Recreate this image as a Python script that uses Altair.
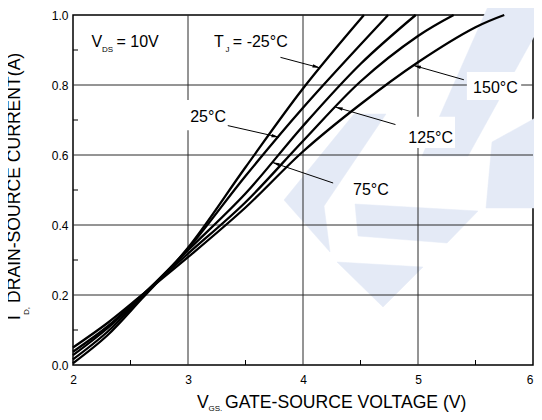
import math
import altair as alt
import pandas as pd

# ---------------- data ----------------
temps = ["-25°C", "25°C", "75°C", "125°C", "150°C"]

vgs_m25 = [2.0, 2.3, 2.6, 3.0, 3.5, 4.0, 4.53]
id_m25 = [0.005, 0.085, 0.19, 0.335, 0.565, 0.79, 1.0]

vgs_25 = [2.0, 2.3, 2.6, 3.0, 3.5, 4.0, 4.74]
id_25 = [0.016, 0.095, 0.195, 0.332, 0.54, 0.735, 1.0]

vgs_75 = [2.0, 2.3, 2.6, 3.0, 3.5, 4.0, 4.5, 4.98]
id_75 = [0.028, 0.105, 0.198, 0.328, 0.49, 0.683, 0.86, 1.0]

vgs_125 = [2.0, 2.3, 2.6, 3.0, 3.5, 4.0, 4.5, 5.0, 5.31]
id_125 = [0.038, 0.11, 0.20, 0.318, 0.465, 0.64, 0.81, 0.94, 1.0]

vgs_150 = [2.0, 2.3, 2.6, 3.0, 3.5, 4.0, 4.5, 5.0, 5.5, 5.75]
id_150 = [0.05, 0.12, 0.20, 0.308, 0.45, 0.61, 0.745, 0.865, 0.965, 1.0]

x_ticks = [2, 3, 4, 5, 6]
y_ticks = [0.0, 0.2, 0.4, 0.6, 0.8, 1.0]
x_minor = [2.5, 3.5, 4.5, 5.5]
y_minor = [0.1, 0.3, 0.5, 0.7, 0.9]

# annotation texts (data coords: left edge, baseline)
ann_text = ["V", "DS", "= 10V", "T", "J", "= -25°C", "25°C", "75°C", "125°C", "150°C"]
ann_x = [2.161, 2.253, 2.378, 3.227, 3.326, 3.39, 3.019, 4.435, 4.916, 5.479]
ann_y = [0.908, 0.893, 0.908, 0.908, 0.893, 0.908, 0.695, 0.486, 0.635, 0.778]
ann_fs = [16, 8, 16, 16, 8, 16, 16, 16, 16, 16]

# white label boxes
box_x1 = [2.970, 4.858, 5.425, 4.378]
box_x2 = [3.365, 5.322, 5.897, 4.790]
box_y1 = [0.671, 0.620, 0.757, 0.463]
box_y2 = [0.757, 0.709, 0.837, 0.537]

# arrows: tail -> tip
arr_tail_x = [3.804, 3.346, 4.262, 4.804, 5.399]
arr_tail_y = [0.879, 0.684, 0.520, 0.687, 0.815]
arr_tip_x = [4.147, 3.790, 3.732, 4.281, 4.961]
arr_tip_y = [0.849, 0.651, 0.579, 0.737, 0.856]

# faint background logo (watermark) outline, in page pixels
wm_shapes = {
    "band": [(490, 2), (542, 2), (542, 22), (468, 156), (422, 156)],
    "stroke": [(354, 114), (386, 114), (324, 206), (330, 252), (284, 200)],
    "bar": [(355, 204), (478, 211), (447, 243), (358, 236)],
    "tri": [(337, 262), (423, 267), (383, 307)],
    "right": [(492, 142), (539, 116), (539, 208), (486, 208)],
}

# ---------------- build ----------------
W, H = 460, 350
FONT = "Liberation Sans"
PX_X0, PX_Y0 = 73, 15  # page position of plot origin
WM_COLOR = "#e4eaf6"

rows = []
for t, xs_, ys_ in zip(temps, [vgs_m25, vgs_25, vgs_75, vgs_125, vgs_150],
                       [id_m25, id_25, id_75, id_125, id_150]):
    for a, b in zip(xs_, ys_):
        rows.append({"temp": t, "vgs": a, "id": b})
curves = pd.DataFrame(rows)

wm_rows = []
for name, pts in wm_shapes.items():
    for i, (px, py) in enumerate(list(pts) + [pts[0]]):
        wm_rows.append({"shape": name, "i": i,
                        "x": 2 + (px - PX_X0) * 4 / W,
                        "y": 1 - (py - PX_Y0) / H})
wm = pd.DataFrame(wm_rows)

xscale = alt.Scale(domain=[2, 6], nice=False, zero=False)
yscale = alt.Scale(domain=[0, 1], nice=False, zero=False)

x_axis = alt.Axis(values=x_ticks, title=None, grid=False, ticks=False, tickSize=0,
                  domain=False, labelFlush=False, labelPadding=9, labelFontSize=12,
                  format="d",
                  labelAlign={"condition": {"test": "datum.value == 6", "value": "right"},
                              "value": "center"})
y_axis = alt.Axis(values=y_ticks, title=None, grid=False, ticks=False, tickSize=0,
                  domain=False, labelFlush=False, labelPadding=5, labelFontSize=12,
                  format=".1f")


def X(f):
    return alt.X(f, scale=xscale, axis=x_axis)


def Y(f):
    return alt.Y(f, scale=yscale, axis=y_axis)


watermark = alt.Chart(wm).mark_line(fill=WM_COLOR, stroke=WM_COLOR, strokeWidth=0.5,
                                    interpolate="linear").encode(
    x=X("x:Q"), y=Y("y:Q"), detail="shape:N", order="i:Q")

xgrid = alt.Chart(pd.DataFrame({"v": x_ticks[1:-1]})).mark_rule(
    color="#2b2b2b", strokeWidth=1).encode(x=X("v:Q"), y=alt.value(0), y2=alt.value(H))
ygrid = alt.Chart(pd.DataFrame({"v": y_ticks[1:-1]})).mark_rule(
    color="#2b2b2b", strokeWidth=1).encode(y=Y("v:Q"), x=alt.value(0), x2=alt.value(W))

boxes = alt.Chart(pd.DataFrame({"x1": box_x1, "x2": box_x2, "y1": box_y1, "y2": box_y2})
                  ).mark_rect(color="white").encode(
    x=X("x1:Q"), x2="x2:Q", y=Y("y1:Q"), y2="y2:Q")

lines = alt.Chart(curves).mark_line(color="black", strokeWidth=2.3,
                                    interpolate="catmull-rom").encode(
    x=X("vgs:Q"), y=Y("id:Q"), detail="temp:N")

xmin = alt.Chart(pd.DataFrame({"v": x_minor})).mark_rule(color="black", strokeWidth=1).encode(
    x=X("v:Q"), y=alt.value(H), y2=alt.value(H - 5))
ymin = alt.Chart(pd.DataFrame({"v": y_minor})).mark_rule(color="black", strokeWidth=1).encode(
    y=Y("v:Q"), x=alt.value(0), x2=alt.value(5))

arr = pd.DataFrame({"tx": arr_tail_x, "ty": arr_tail_y, "hx": arr_tip_x, "hy": arr_tip_y})
arrow_lines = alt.Chart(arr).mark_rule(color="black", strokeWidth=1).encode(
    x=X("tx:Q"), y=Y("ty:Q"), x2="hx:Q", y2="hy:Q")

head_size = 55
r = math.sqrt(head_size) / 2
hrows = []
for tx, ty, hx, hy in zip(arr_tail_x, arr_tail_y, arr_tip_x, arr_tip_y):
    dxp = (hx - tx) * W / 4
    dyp = -(hy - ty) * H
    L = math.hypot(dxp, dyp)
    ux, uy = dxp / L, dyp / L
    ang = math.degrees(math.atan2(ux, -uy)) % 360
    hrows.append({"cx": hx - r * ux / (W / 4), "cy": hy + r * uy / H, "ang": ang})
heads = alt.Chart(pd.DataFrame(hrows)).mark_point(
    shape="M0,-1L0.45,1L-0.45,1Z", filled=True, color="black", opacity=1, size=head_size,
    strokeWidth=0).encode(
    x=X("cx:Q"), y=Y("cy:Q"), angle=alt.Angle("ang:Q", scale=None))

texts = alt.Chart(pd.DataFrame({"x": ann_x, "y": ann_y, "text": ann_text, "fs": ann_fs})
                  ).mark_text(align="left", baseline="alphabetic", font=FONT, color="black").encode(
    x=X("x:Q"), y=Y("y:Q"), text="text:N", size=alt.Size("fs:Q", scale=None, legend=None))


def ptext(txt, px, py, fs, angle=0):
    return alt.Chart(alt.Data(values=[{}])).mark_text(
        align="left", baseline="alphabetic", font=FONT, fontSize=fs, angle=angle,
        color="black").encode(x=alt.value(px), y=alt.value(py), text=alt.value(txt))


titles = [
    ptext("V", 124, 392.5, 17.6),
    ptext("GS.", 135.5, 396, 8),
    ptext("GATE-SOURCE VOLTAGE (V)", 152, 392.5, 17.6),
    ptext("I", -53, 305, 17.6, 270),
    ptext("D,", -44, 300, 8, 270),
    ptext("DRAIN-SOURCE CURRENT(A)", -53, 288, 17.6, 270),
]

chart = alt.layer(watermark, xgrid, ygrid, boxes, lines, xmin, ymin, arrow_lines, heads,
                  texts, *titles).properties(
    width=W, height=H,
    autosize=alt.AutoSizeParams(type="none"),
    padding={"left": 65, "top": 7, "right": 1, "bottom": 47},
).configure_view(stroke="black", strokeWidth=1.5).configure_axis(
    labelFont=FONT, labelColor="black")

chart.save("out.html", embed_options={"renderer": "svg", "actions": False})
